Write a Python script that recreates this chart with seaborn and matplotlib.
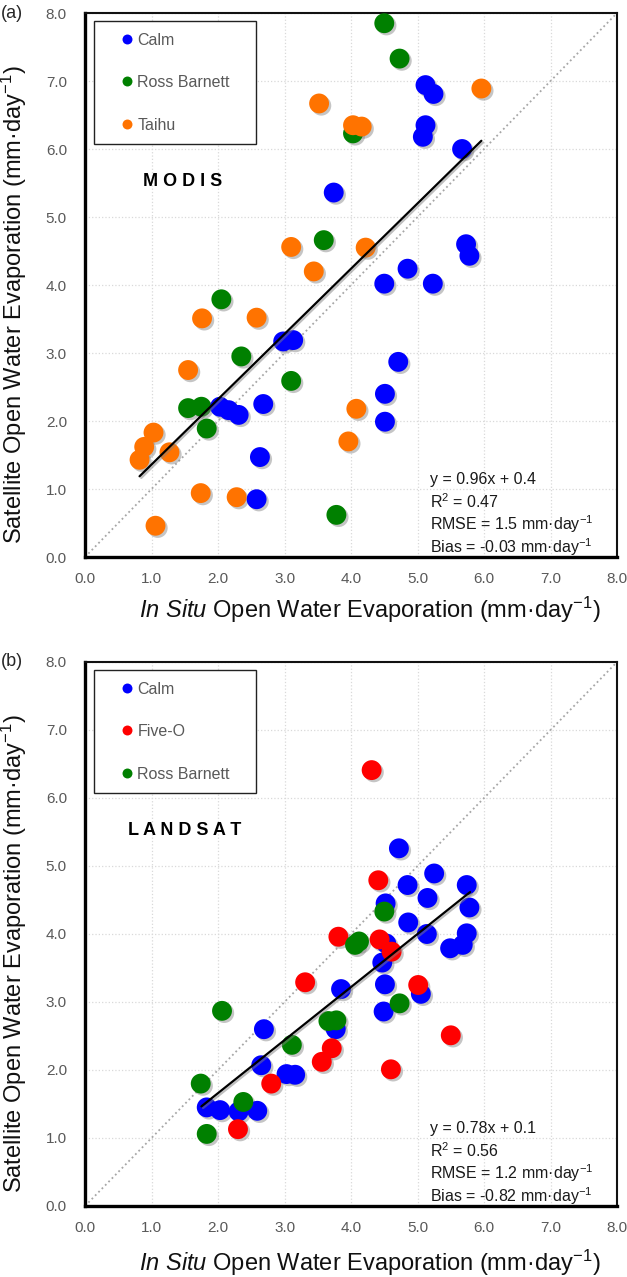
import pandas as pd
import matplotlib.pyplot as plt
import matplotlib.patheffects as pe
from matplotlib.patches import Rectangle
import seaborn as sns

# Panel (a) MODIS points
calm_a_x = [5.12, 5.24, 5.12, 5.08, 5.67, 3.74, 5.73, 5.78, 4.85, 4.50, 5.23, 4.71, 4.51, 4.51,
            2.98, 3.13, 2.03, 2.16, 2.31, 2.68, 2.63, 2.58]
calm_a_y = [6.94, 6.81, 6.35, 6.18, 6.00, 5.36, 4.60, 4.43, 4.24, 4.02, 4.02, 2.87, 2.40, 1.99,
            3.17, 3.19, 2.21, 2.16, 2.09, 2.25, 1.47, 0.85]
ross_a_x = [4.50, 4.73, 4.03, 3.59, 2.05, 2.35, 3.10, 1.55, 1.75, 1.83, 3.78]
ross_a_y = [7.85, 7.33, 6.23, 4.66, 3.79, 2.95, 2.59, 2.19, 2.21, 1.89, 0.62]
taihu_a_x = [3.52, 5.96, 4.03, 4.16, 3.10, 3.44, 4.22, 1.76, 2.58, 1.55, 1.03, 0.89, 0.82, 1.27,
             1.74, 2.28, 1.06, 4.08, 3.96]
taihu_a_y = [6.67, 6.89, 6.35, 6.33, 4.56, 4.20, 4.55, 3.51, 3.52, 2.75, 1.83, 1.62, 1.43, 1.54,
             0.94, 0.88, 0.46, 2.18, 1.70]

# Panel (b) LANDSAT points
calm_b_x = [4.72, 5.25, 4.85, 5.74, 5.15, 4.52, 5.78, 4.86, 5.14, 5.74, 5.68, 5.49, 4.53, 4.47,
            3.85, 4.51, 5.05, 4.49, 3.77, 2.69, 2.65, 3.03, 3.16, 1.83, 2.03, 2.31, 2.59]
calm_b_y = [5.26, 4.89, 4.72, 4.72, 4.53, 4.45, 4.39, 4.17, 4.00, 4.01, 3.84, 3.79, 3.86, 3.58,
            3.19, 3.26, 3.12, 2.86, 2.60, 2.60, 2.07, 1.94, 1.93, 1.45, 1.41, 1.39, 1.40]
fiveo_b_x = [4.31, 4.41, 3.81, 4.43, 4.61, 3.31, 5.01, 5.50, 3.71, 3.56, 4.60, 2.80, 2.30]
fiveo_b_y = [6.41, 4.79, 3.96, 3.92, 3.74, 3.29, 3.25, 2.51, 2.32, 2.12, 2.01, 1.80, 1.13]
ross_b_x = [4.50, 4.06, 4.12, 4.73, 3.66, 3.78, 2.06, 3.11, 1.74, 2.38, 1.83]
ross_b_y = [4.33, 3.84, 3.89, 2.98, 2.72, 2.73, 2.87, 2.37, 1.80, 1.53, 1.06]

# fitted lines (slope, intercept, x range)
fit_a = (0.96, 0.4, 0.82, 5.96)
fit_b = (0.78, 0.1, 1.75, 5.79)

stats_a = ["y = 0.96x + 0.4", "R$^2$ = 0.47", "RMSE = 1.5 mm·day$^{-1}$", "Bias = -0.03 mm·day$^{-1}$"]
stats_b = ["y = 0.78x + 0.1", "R$^2$ = 0.56", "RMSE = 1.2 mm·day$^{-1}$", "Bias = -0.82 mm·day$^{-1}$"]

ticks = [0, 1, 2, 3, 4, 5, 6, 7, 8]

palette = {"Calm": "#0000ff", "Ross Barnett": "#008000", "Taihu": "#ff7300", "Five-O": "#ff0000"}

sns.set_style("white")
plt.rcParams['font.family'] = ['Liberation Sans', 'DejaVu Sans']
plt.rcParams['mathtext.fontset'] = 'custom'
plt.rcParams['mathtext.rm'] = 'Liberation Sans'
plt.rcParams['mathtext.it'] = 'Liberation Sans:italic'
plt.rcParams['mathtext.bf'] = 'Liberation Sans:bold'


def make_df(groups):
    rows = []
    for name, xs, ys in groups:
        for x, y in zip(xs, ys):
            rows.append({"site": name, "insitu": x, "sat": y})
    return pd.DataFrame(rows)


df_a = make_df([("Ross Barnett", ross_a_x, ross_a_y), ("Calm", calm_a_x, calm_a_y),
                ("Taihu", taihu_a_x, taihu_a_y)])
df_b = make_df([("Calm", calm_b_x, calm_b_y), ("Five-O", fiveo_b_x, fiveo_b_y),
                ("Ross Barnett", ross_b_x, ross_b_y)])

fig = plt.figure(figsize=(6.27, 12.77), dpi=100)
ax_a = fig.add_axes([0.1356, 0.5638, 0.8485, 0.426])
ax_b = fig.add_axes([0.1356, 0.0556, 0.8485, 0.426])

shadow = [pe.SimplePatchShadow(offset=(1.6, -1.6), shadow_rgbFace='#808080', alpha=0.45), pe.Normal()]
xlabel = r"$\mathit{In\ Situ}$ Open Water Evaporation (mm·day$^{-1}$)"
ylabel = "Satellite Open Water Evaporation (mm·day$^{-1}$)"


def draw(ax, df, order, fit, stats, name, tag, xlab_y):
    # grid and 1:1 line
    ax.grid(True, color='#d9d9d9', linestyle=':', linewidth=0.9)
    ax.set_axisbelow(True)
    ax.plot([0, 8], [0, 8], color='#a6a6a6', linestyle=':', linewidth=1.3, zorder=1)

    sns.scatterplot(data=df, x="insitu", y="sat", hue="site", hue_order=order,
                    palette=palette, s=205, edgecolor='none', linewidth=0,
                    ax=ax, zorder=3, legend=True)
    ax.collections[-1].set_path_effects(shadow)

    m, b, x0, x1 = fit
    ax.plot([x0, x1], [m * x0 + b, m * x1 + b], color='black', linewidth=1.6, zorder=4,
            path_effects=[pe.SimpleLineShadow(offset=(1.2, -1.2), shadow_color='#808080', alpha=0.5),
                          pe.Normal()])

    ax.set_xlim(0, 8)
    ax.set_ylim(0, 8)
    ax.set_xticks(ticks)
    ax.set_yticks(ticks)
    ax.set_xticklabels([f"{t:.1f}" for t in ticks])
    ax.set_yticklabels([f"{t:.1f}" for t in ticks])
    ax.tick_params(axis='y', length=0, labelsize=11, labelcolor='#595959', pad=13)
    ax.tick_params(axis='x', length=0, labelsize=11, labelcolor='#595959', pad=11)
    ax.set_xlabel(xlabel, fontsize=17, color='#111111')
    ax.set_ylabel(ylabel, fontsize=17, color='#111111')
    ax.xaxis.set_label_coords(0.536, xlab_y)
    ax.yaxis.set_label_coords(-0.106, 0.463)

    for side in ['left', 'bottom']:
        ax.spines[side].set_linewidth(2.4)
        ax.spines[side].set_color('black')
    for side in ['top', 'right']:
        ax.spines[side].set_linewidth(1.5)
        ax.spines[side].set_color('#111111')

    # legend box
    ax.add_patch(Rectangle((0.0169, 0.759), 0.3045, 0.226, transform=ax.transAxes,
                           facecolor='white', edgecolor='#222222', linewidth=1.0, zorder=5))
    handles, labels = ax.get_legend_handles_labels()
    leg = ax.legend(handles, labels, loc='upper left', bbox_to_anchor=(0.067, 0.964),
                    frameon=False, markerscale=0.5, fontsize=11.5, labelspacing=1.72,
                    handlelength=0.8, handletextpad=0.25, borderpad=0, borderaxespad=0)
    leg.set_zorder(6)
    for t in leg.get_texts():
        t.set_color('#595959')

    ax.text(name[1], 5.52, name[0], fontsize=13, fontweight='bold', va='center', ha='left',
            color='black', zorder=6)
    for yy, s in zip([1.14, 0.82, 0.48, 0.14], stats):
        ax.text(5.19, yy, s, fontsize=11.5, va='center', ha='left', color='#1a1a1a', zorder=6)

    ax.text(-0.159, 1.0, tag, transform=ax.transAxes, fontsize=13, va='center', ha='left')


draw(ax_a, df_a, ["Calm", "Ross Barnett", "Taihu"], fit_a, stats_a, ("M O D I S", 0.87), "(a)", -0.07)
draw(ax_b, df_b, ["Calm", "Five-O", "Ross Barnett"], fit_b, stats_b, ("L A N D S A T", 0.65), "(b)", -0.076)

fig.savefig("out.png", dpi=100)
